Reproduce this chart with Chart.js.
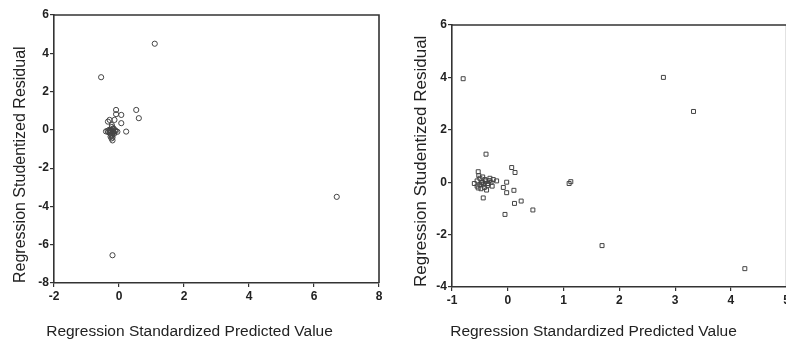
<!DOCTYPE html>
<html lang="en">
<head>
    <meta charset="UTF-8">
    <title>Residual plots</title>
    <script src="https://cdn.jsdelivr.net/npm/chart.js"></script>
    <style>
        html, body { margin: 0; padding: 0; background: #fff; overflow: hidden; width: 786px; height: 345px; }
        .wrap { position: absolute; top: 0; height: 345px; }
        #leftWrap { left: 0; width: 390px; }
        #rightWrap { left: 400px; width: 392px; }
    </style>
</head>
<body>
    <div class="wrap" id="leftWrap"><canvas id="leftPlot" width="390" height="345"></canvas></div>
    <div class="wrap" id="rightWrap"><canvas id="rightPlot" width="392" height="345"></canvas></div>

    <script>
        // left panel: predicted (x) vs studentized residual (y)
        const leftX = [1.1, -0.55, 6.7, -0.2,
            -0.34, -0.09, -0.09, 0.07, 0.07, 0.53, 0.61, -0.29, -0.14, 0.22,
            -0.24, -0.3, -0.18, -0.12, -0.35, -0.05, -0.22, -0.25, -0.2, -0.27, -0.15, -0.22, -0.2,
            -0.4, -0.33, -0.28, -0.16, -0.1, -0.21, -0.19, -0.23, -0.2, -0.17, -0.26];
        const leftY = [4.5, 2.75, -3.5, -6.55,
            0.43, 1.04, 0.82, 0.78, 0.35, 1.04, 0.61, 0.52, 0.52, -0.09,
            -0.05, 0, -0.08, -0.02, -0.05, -0.1, 0.15, -0.25, -0.4, -0.15, -0.2, 0.25, -0.55,
            -0.08, -0.12, -0.06, -0.12, -0.06, -0.3, 0.05, -0.45, -0.18, 0.08, -0.35];
        const leftXTicks = [-2, 0, 2, 4, 6, 8];
        const leftYTicks = [-8, -6, -4, -2, 0, 2, 4, 6];

        // right panel
        const rightX = [-0.8, 2.79, 3.33, 1.69, 4.25, 1.1, 1.13, 0.45, -0.05, 0.12, 0.24, 0.11,
            -0.02, -0.02, -0.08, 0.07, 0.13, -0.39, -0.53, -0.44, -0.26,
            -0.55, -0.5, -0.45, -0.4, -0.35, -0.5, -0.42, -0.55, -0.3, -0.38, -0.48, -0.6, -0.32, -0.45, -0.28, -0.2, -0.52,
            -0.47, -0.41, -0.36, -0.53, -0.44, -0.33];
        const rightY = [3.95, 4.0, 2.7, -2.42, -3.3, -0.05, 0.02, -1.06, -1.23, -0.81, -0.72, -0.31,
            0, -0.4, -0.2, 0.56, 0.37, 1.07, 0.4, -0.6, 0.1,
            0.05, -0.1, 0, 0.05, -0.05, 0.15, -0.2, -0.15, 0, -0.3, -0.25, -0.05, 0.15, 0.2, -0.15, 0.05, 0.25,
            -0.02, 0.1, -0.12, -0.22, -0.08, 0.06];
        const rightXTicks = [-1, 0, 1, 2, 3, 4, 5];
        const rightYTicks = [-4, -2, 0, 2, 4, 6];

        const yTitle = 'Regression Studentized Residual';
        const xTitle = 'Regression Standardized Predicted Value';

        const ink = '#333';
        const tickFont = { family: 'Arial, "Liberation Sans", sans-serif', size: 12, weight: 'bold' };

        // top and right edges of the frame
        const framePlugin = {
            id: 'frame',
            afterDraw(chart) {
                const a = chart.chartArea;
                const ctx = chart.ctx;
                ctx.save();
                ctx.strokeStyle = ink;
                ctx.lineWidth = 1.6;
                ctx.beginPath();
                ctx.moveTo(a.left, a.top);
                ctx.lineTo(a.right, a.top);
                ctx.lineTo(a.right, a.bottom);
                ctx.stroke();
                ctx.restore();
            }
        };

        function makePlot(id, xs, ys, xTicks, yTicks, opts) {
            const pts = xs.map((x, i) => ({ x: x, y: ys[i] }));
            return new Chart(document.getElementById(id), {
                type: 'scatter',
                data: {
                    datasets: [{
                        data: pts,
                        pointStyle: opts.marker,
                        pointRadius: opts.radius,
                        borderColor: '#444',
                        borderWidth: 1,
                        backgroundColor: 'rgba(0,0,0,0)'
                    }]
                },
                options: {
                    responsive: false,
                    animation: false,
                    layout: { padding: opts.padding },
                    plugins: {
                        legend: { display: false },
                        tooltip: { enabled: false },
                        title: {
                            display: true,
                            position: 'bottom',
                            text: xTitle,
                            color: '#222',
                            font: { family: 'Arial, "Liberation Sans", sans-serif', size: 15.5, weight: 'normal' },
                            padding: { top: 0, bottom: 4 }
                        }
                    },
                    scales: {
                        x: {
                            type: 'linear',
                            min: xTicks[0],
                            max: xTicks[xTicks.length - 1],
                            afterBuildTicks: s => { s.ticks = xTicks.map(v => ({ value: v })); },
                            afterFit: s => { s.height = opts.xHeight; },
                            grid: { display: true, drawOnChartArea: false, drawTicks: true, tickLength: 4, color: ink, lineWidth: 1.2 },
                            border: { display: true, color: ink, width: 1.6 },
                            ticks: { color: '#222', font: tickFont, padding: 2, maxRotation: 0 }
                        },
                        y: {
                            type: 'linear',
                            min: yTicks[0],
                            max: yTicks[yTicks.length - 1],
                            afterBuildTicks: s => { s.ticks = yTicks.map(v => ({ value: v })); },
                            afterFit: s => { s.width = opts.yWidth; },
                            grid: { display: true, drawOnChartArea: false, drawTicks: true, tickLength: 4, color: ink, lineWidth: 1.2 },
                            border: { display: true, color: ink, width: 1.6 },
                            ticks: { color: '#222', font: tickFont, padding: 1 },
                            title: {
                                display: true,
                                text: yTitle,
                                align: 'start',
                                color: '#222',
                                font: { family: 'Arial, "Liberation Sans", sans-serif', size: opts.yTitleSize },
                                padding: { top: opts.yTitlePad, bottom: 0 }
                            }
                        }
                    }
                },
                plugins: [framePlugin]
            });
        }

        makePlot('leftPlot', leftX, leftY, leftXTicks, leftYTicks, {
            marker: 'circle', radius: 2.6,
            padding: { top: 15, right: 11, left: 0, bottom: 0 },
            xHeight: 39.4, yWidth: 54, yTitleSize: 16, yTitlePad: 11
        });

        makePlot('rightPlot', rightX, rightY, rightXTicks, rightYTicks, {
            marker: 'rect', radius: 2.8,
            padding: { top: 25, right: 5, left: 0, bottom: 0 },
            xHeight: 35.4, yWidth: 52, yTitleSize: 17, yTitlePad: 11
        });
    </script>
</body>
</html>
